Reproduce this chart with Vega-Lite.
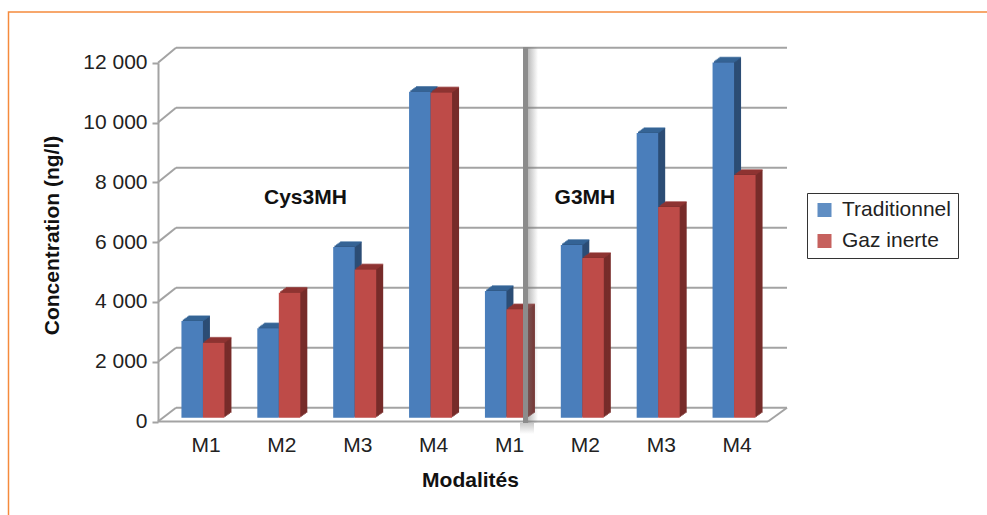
{
"$schema":"https://vega.github.io/schema/vega-lite/v6.json",
"width":987,"height":515,"padding":0,"autosize":{"type":"none"},
"background":"white",
"config":{"font":"Liberation Sans","view":{"stroke":null},"axis":{"grid":false}},
"datasets":{
"bars":[
{"modalite":"M1 Cys3MH","serie":"Traditionnel","valeur":3230},{"modalite":"M1 Cys3MH","serie":"Gaz inerte","valeur":2510},
{"modalite":"M2 Cys3MH","serie":"Traditionnel","valeur":2990},{"modalite":"M2 Cys3MH","serie":"Gaz inerte","valeur":4180},
{"modalite":"M3 Cys3MH","serie":"Traditionnel","valeur":5710},{"modalite":"M3 Cys3MH","serie":"Gaz inerte","valeur":4960},
{"modalite":"M4 Cys3MH","serie":"Traditionnel","valeur":10900},{"modalite":"M4 Cys3MH","serie":"Gaz inerte","valeur":10880},
{"modalite":"M1 G3MH","serie":"Traditionnel","valeur":4240},{"modalite":"M1 G3MH","serie":"Gaz inerte","valeur":3625},
{"modalite":"M2 G3MH","serie":"Traditionnel","valeur":5780},{"modalite":"M2 G3MH","serie":"Gaz inerte","valeur":5340},
{"modalite":"M3 G3MH","serie":"Traditionnel","valeur":9520},{"modalite":"M3 G3MH","serie":"Gaz inerte","valeur":7050},
{"modalite":"M4 G3MH","serie":"Traditionnel","valeur":11880},{"modalite":"M4 G3MH","serie":"Gaz inerte","valeur":8120}
],
"levels":[{"level":0,"back":462},{"level":2000,"back":2469},{"level":4000,"back":4476},{"level":6000,"back":6482},{"level":8000,"back":8489},{"level":10000,"back":10495},{"level":12000,"back":12502}],
"frame":[{"a":0,"b":0},{"a":0,"b":1},{"a":1,"b":1}]
},
"layer":[
{"data":{"name":"frame"},"mark":{"type":"line","color":"#f58a3c","strokeWidth":1.5,"clip":false},
 "encoding":{"x":{"field":"a","type":"quantitative","axis":null,"scale":{"domain":[0,1],"range":[8.5,990]}},"y":{"field":"b","type":"quantitative","axis":null,"scale":{"domain":[0,1],"range":[518,12]}},"order":{"field":"b"}}},
{"data":{"name":"levels"},"mark":{"type":"rule","color":"#a3a3a3","strokeWidth":2},
 "encoding":{"x":{"datum":0,"type":"quantitative","axis":null,"scale":{"domain":[0,1],"range":[176,787]}},"x2":{"datum":1},"y":{"field":"level","type":"quantitative","axis":null,"scale":{"domain":[0,12000],"range":[407.7,47.7],"nice":false}}}},
{"data":{"name":"levels"},"mark":{"type":"rule","color":"#a3a3a3","strokeWidth":2},
 "encoding":{"x":{"datum":0,"type":"quantitative","axis":null,"scale":{"domain":[0,1],"range":[158,176]}},"x2":{"datum":1},"y":{"field":"level","type":"quantitative","axis":null,"scale":{"domain":[0,12000],"range":[421.5,62.7],"nice":false}},"y2":{"field":"back"}}},
{"data":{"name":"levels"},"transform":[{"filter":"datum.level==0"}],"mark":{"type":"rule","color":"#a3a3a3","strokeWidth":2},
 "encoding":{"x":{"datum":0,"type":"quantitative","axis":null,"scale":{"domain":[0,1],"range":[768,787]}},"x2":{"datum":1},"y":{"field":"level","type":"quantitative","axis":null,"scale":{"domain":[0,12000],"range":[421.5,62.7],"nice":false}},"y2":{"field":"back"}}},
{"data":{"name":"levels"},"transform":[{"filter":"datum.level==0"}],"mark":{"type":"rule","color":"#a3a3a3","strokeWidth":2},
 "encoding":{"x":{"datum":0,"type":"quantitative","axis":null,"scale":{"domain":[0,1],"range":[158,768]}},"x2":{"datum":1},"y":{"field":"level","type":"quantitative","axis":null,"scale":{"domain":[0,12000],"range":[421.5,62.7],"nice":false}}}},

{"data":{"name":"bars"},"encoding":{"x":{"field":"modalite","type":"nominal","axis":null,"sort":null,"scale":{"range":[172,779],"paddingInner":0.4333,"paddingOuter":0.2167}},"xOffset":{"field":"serie","type":"nominal","sort":["Traditionnel","Gaz inerte"],"scale":{"range":[0,43]}},"y":{"field":"valeur","type":"quantitative","axis":null,"scale":{"domain":[0,12000],"range":[412.7,53.9],"nice":false}}},
 "layer":[{"mark":{"type":"bar","width":21.5},"encoding":{"color":{"condition":{"test":"datum.serie==='Traditionnel'","value":"#2c4d75"},"value":"#772c2a"}}},{"mark":{"type":"tick","size":21.5,"thickness":1.6},"encoding":{"color":{"condition":{"test":"datum.serie==='Traditionnel'","value":"#386a9c"},"value":"#943634"}}}]},
{"data":{"name":"bars"},"encoding":{"x":{"field":"modalite","type":"nominal","axis":null,"sort":null,"scale":{"range":[170.6,777.6],"paddingInner":0.4333,"paddingOuter":0.2167}},"xOffset":{"field":"serie","type":"nominal","sort":["Traditionnel","Gaz inerte"],"scale":{"range":[0,43]}},"y":{"field":"valeur","type":"quantitative","axis":null,"scale":{"domain":[0,12000],"range":[413.7,54.9],"nice":false}}},
 "layer":[{"mark":{"type":"bar","width":21.5},"encoding":{"color":{"condition":{"test":"datum.serie==='Traditionnel'","value":"#2c4d75"},"value":"#772c2a"}}},{"mark":{"type":"tick","size":21.5,"thickness":1.6},"encoding":{"color":{"condition":{"test":"datum.serie==='Traditionnel'","value":"#386a9c"},"value":"#943634"}}}]},
{"data":{"name":"bars"},"encoding":{"x":{"field":"modalite","type":"nominal","axis":null,"sort":null,"scale":{"range":[169.2,776.2],"paddingInner":0.4333,"paddingOuter":0.2167}},"xOffset":{"field":"serie","type":"nominal","sort":["Traditionnel","Gaz inerte"],"scale":{"range":[0,43]}},"y":{"field":"valeur","type":"quantitative","axis":null,"scale":{"domain":[0,12000],"range":[414.7,55.9],"nice":false}}},
 "layer":[{"mark":{"type":"bar","width":21.5},"encoding":{"color":{"condition":{"test":"datum.serie==='Traditionnel'","value":"#2c4d75"},"value":"#772c2a"}}},{"mark":{"type":"tick","size":21.5,"thickness":1.6},"encoding":{"color":{"condition":{"test":"datum.serie==='Traditionnel'","value":"#386a9c"},"value":"#943634"}}}]},
{"data":{"name":"bars"},"encoding":{"x":{"field":"modalite","type":"nominal","axis":null,"sort":null,"scale":{"range":[167.8,774.8],"paddingInner":0.4333,"paddingOuter":0.2167}},"xOffset":{"field":"serie","type":"nominal","sort":["Traditionnel","Gaz inerte"],"scale":{"range":[0,43]}},"y":{"field":"valeur","type":"quantitative","axis":null,"scale":{"domain":[0,12000],"range":[415.7,56.9],"nice":false}}},
 "layer":[{"mark":{"type":"bar","width":21.5},"encoding":{"color":{"condition":{"test":"datum.serie==='Traditionnel'","value":"#2c4d75"},"value":"#772c2a"}}},{"mark":{"type":"tick","size":21.5,"thickness":1.6},"encoding":{"color":{"condition":{"test":"datum.serie==='Traditionnel'","value":"#386a9c"},"value":"#943634"}}}]},
{"data":{"name":"bars"},"encoding":{"x":{"field":"modalite","type":"nominal","axis":null,"sort":null,"scale":{"range":[166.4,773.4],"paddingInner":0.4333,"paddingOuter":0.2167}},"xOffset":{"field":"serie","type":"nominal","sort":["Traditionnel","Gaz inerte"],"scale":{"range":[0,43]}},"y":{"field":"valeur","type":"quantitative","axis":null,"scale":{"domain":[0,12000],"range":[416.7,57.9],"nice":false}}},
 "layer":[{"mark":{"type":"bar","width":21.5},"encoding":{"color":{"condition":{"test":"datum.serie==='Traditionnel'","value":"#2c4d75"},"value":"#772c2a"}}},{"mark":{"type":"tick","size":21.5,"thickness":1.6},"encoding":{"color":{"condition":{"test":"datum.serie==='Traditionnel'","value":"#386a9c"},"value":"#943634"}}}]},

{"data":{"name":"bars"},"mark":{"type":"bar","width":21.5},
 "encoding":{"x":{"field":"modalite","type":"nominal","axis":null,"sort":null,"scale":{"range":[165,772],"paddingInner":0.4333,"paddingOuter":0.2167}},"xOffset":{"field":"serie","type":"nominal","sort":["Traditionnel","Gaz inerte"],"scale":{"range":[0,43]}},"y":{"field":"valeur","type":"quantitative","axis":null,"scale":{"domain":[0,12000],"range":[417.7,58.9],"nice":false}},
 "color":{"field":"serie","type":"nominal","sort":["Traditionnel","Gaz inerte"],"scale":{"domain":["Traditionnel","Gaz inerte"],"range":["#4a7ebb","#be4b48"]},
  "legend":{"title":null,"orient":"none","legendX":807,"legendY":193,"padding":6.5,"strokeColor":"#333333","fillColor":"white","symbolType":"square","symbolSize":196,"symbolOpacity":0.88,"symbolStrokeWidth":0,"symbolOffset":0.5,"labelFontSize":21,"labelColor":"#222222","rowPadding":9,"labelOffset":7}}}},

{"data":{"name":"bars"},"mark":{"type":"text","opacity":0},
 "encoding":{"x":{"field":"modalite","type":"nominal","sort":null,"scale":{"range":[167.6,774.6],"paddingInner":0,"paddingOuter":0},
  "axis":{"orient":"bottom","offset":-93.5,"domain":false,"ticks":false,"labelAngle":0,"labelFontSize":21,"labelColor":"#222222","labelPadding":13,"labelExpr":"slice(datum.label,0,2)","title":"Modalités","titleFontSize":21,"titleFontWeight":"bold","titleColor":"#111111","titleX":470,"titleY":59,"titleBaseline":"middle"}},
 "y":{"field":"valeur","type":"quantitative","scale":{"domain":[0,12000],"range":[421.5,62.7],"nice":false},
  "axis":{"orient":"left","offset":-158,"values":[0,2000,4000,6000,8000,10000,12000],"domain":true,"domainColor":"#a3a3a3","domainWidth":2,"ticks":true,"tickColor":"#a3a3a3","tickWidth":2,"tickSize":6,"labelFontSize":21,"labelColor":"#222222","labelPadding":5,"labelExpr":"replace(format(datum.value,','),',',' ')","title":"Concentration (ng/l)","titleFontSize":21,"titleFontWeight":"bold","titleColor":"#111111","titleX":-106,"titleY":235,"titleBaseline":"middle"}},
 "text":{"value":"."}}},

{"data":{"values":[{"nom":"Cys3MH","modalite":"M2 Cys3MH","valeur":7475}]},"mark":{"type":"text","fontWeight":"bold","fontSize":21,"color":"#111111","dx":24},
 "encoding":{"text":{"field":"nom"},"x":{"field":"modalite","type":"nominal","axis":null,"scale":{"domain":["M1 Cys3MH","M2 Cys3MH","M3 Cys3MH","M4 Cys3MH","M1 G3MH","M2 G3MH","M3 G3MH","M4 G3MH"],"range":[167.6,774.6],"paddingInner":0,"paddingOuter":0}},"y":{"field":"valeur","type":"quantitative","axis":null,"scale":{"domain":[0,12000],"range":[421.5,62.7],"nice":false}}}},
{"data":{"values":[{"nom":"G3MH","modalite":"M2 G3MH","valeur":7475}]},"mark":{"type":"text","fontWeight":"bold","fontSize":21,"color":"#111111"},
 "encoding":{"text":{"field":"nom"},"x":{"field":"modalite","type":"nominal","axis":null,"scale":{"domain":["M1 Cys3MH","M2 Cys3MH","M3 Cys3MH","M4 Cys3MH","M1 G3MH","M2 G3MH","M3 G3MH","M4 G3MH"],"range":[167.6,774.6],"paddingInner":0,"paddingOuter":0}},"y":{"field":"valeur","type":"quantitative","axis":null,"scale":{"domain":[0,12000],"range":[421.5,62.7],"nice":false}}}},

{"data":{"values":[{"a":0,"b":0}]},"mark":{"type":"rect","fill":{"gradient":"linear","x1":0,"x2":1,"y1":0,"y2":0,"stops":[{"offset":0,"color":"rgba(120,120,120,0.55)"},{"offset":1,"color":"rgba(120,120,120,0)"}]}},
 "encoding":{"x":{"datum":0,"type":"quantitative","axis":null,"scale":{"domain":[0,1],"range":[527,538]}},"x2":{"datum":1},"y":{"datum":0,"type":"quantitative","axis":null,"scale":{"domain":[0,1],"range":[423,47]}},"y2":{"datum":1}}},
{"data":{"values":[{"a":0,"b":0}]},"mark":{"type":"rect","fill":{"gradient":"linear","x1":0,"x2":0,"y1":0,"y2":1,"stops":[{"offset":0,"color":"rgba(120,120,120,0.4)"},{"offset":1,"color":"rgba(120,120,120,0)"}]}},
 "encoding":{"x":{"datum":0,"type":"quantitative","axis":null,"scale":{"domain":[0,1],"range":[520,534]}},"x2":{"datum":1},"y":{"datum":0,"type":"quantitative","axis":null,"scale":{"domain":[0,1],"range":[434,423]}},"y2":{"datum":1}}},
{"data":{"values":[{"a":0,"b":0}]},"mark":{"type":"rect","fill":"#8c8c8c"},
 "encoding":{"x":{"datum":0,"type":"quantitative","axis":null,"scale":{"domain":[0,1],"range":[523,528]}},"x2":{"datum":1},"y":{"datum":0,"type":"quantitative","axis":null,"scale":{"domain":[0,1],"range":[423,47]}},"y2":{"datum":1}}}
],
"resolve":{"scale":{"x":"independent","y":"independent","xOffset":"independent"}}
}
